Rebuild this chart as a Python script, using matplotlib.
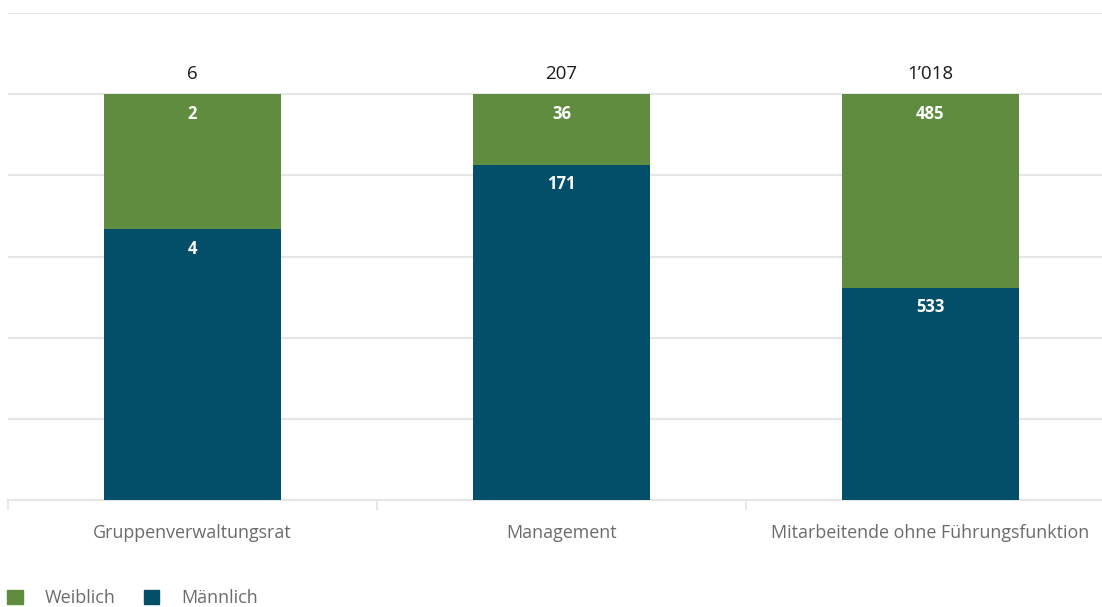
import matplotlib.pyplot as plt

categories = ["Gruppenverwaltungsrat", "Management", "Mitarbeitende ohne Führungsfunktion"]
maennlich = [4, 171, 533]
weiblich = [2, 36, 485]
series = ["Weiblich", "Männlich"]

green = "#5f8c3e"
blue = "#034e68"

plt.rcParams['font.family'] = ['Open Sans', 'DejaVu Sans']

fig = plt.figure(figsize=(11.02, 6.07), dpi=100)
ax = fig.add_axes([8 / 1102, 107 / 607, 1094 / 1102, 487 / 607])

totals = [m + w for m, w in zip(maennlich, weiblich)]
m_pct = [m / t * 100 for m, t in zip(maennlich, totals)]
w_pct = [w / t * 100 for w, t in zip(weiblich, totals)]
x = list(range(len(categories)))

ax.bar(x, m_pct, width=0.482, color=blue, zorder=3)
ax.bar(x, w_pct, bottom=m_pct, width=0.482, color=green, zorder=3)


def fmt(v):
    return f"{v:,}".replace(",", "\u2019")


for i in x:
    ax.annotate(fmt(maennlich[i]), (i, m_pct[i]), xytext=(0, -7.5), textcoords="offset points",
                ha="center", va="top", color="white", fontsize=12, fontweight="bold")
    ax.annotate(fmt(weiblich[i]), (i, 100), xytext=(0, -7.5), textcoords="offset points",
                ha="center", va="top", color="white", fontsize=12, fontweight="bold")
    ax.annotate(fmt(totals[i]), (i, 100), xytext=(0, 8), textcoords="offset points",
                ha="center", va="bottom", color="#1a1a1a", fontsize=13.5)

ax.set_xlim(-0.5, 2.465)
ax.set_ylim(0, 120)
ax.set_yticks([0, 20, 40, 60, 80, 100, 120])
ax.yaxis.grid(True, color="#e6e6e6", linewidth=1.5, zorder=0)
ax.tick_params(axis="y", left=False, labelleft=False)
ax.set_xticks(x)
ax.set_xticklabels(categories, color="#6b6b6b", fontsize=12.9)
ax.tick_params(axis="x", which="major", length=0, pad=17)
ax.set_xticks([-0.5, 0.5, 1.5], minor=True)
ax.tick_params(axis="x", which="minor", length=7.5, color="#dfe4ec", width=1.2)
for s in ["top", "right", "left"]:
    ax.spines[s].set_visible(False)
ax.spines["bottom"].set_color("#e6e6e6")
ax.spines["bottom"].set_linewidth(1.5)

handles = [plt.Rectangle((0, 0), 1, 1, color=green), plt.Rectangle((0, 0), 1, 1, color=blue)]
fig.legend(handles, series, loc="lower left", bbox_to_anchor=(0.0, -0.012), ncol=2, frameon=False,
           fontsize=13, labelcolor="#6b6b6b", handlelength=0.85, handleheight=0.85,
           handletextpad=1.2, columnspacing=1.6, borderaxespad=0)

fig.savefig("out.png", dpi=100)
